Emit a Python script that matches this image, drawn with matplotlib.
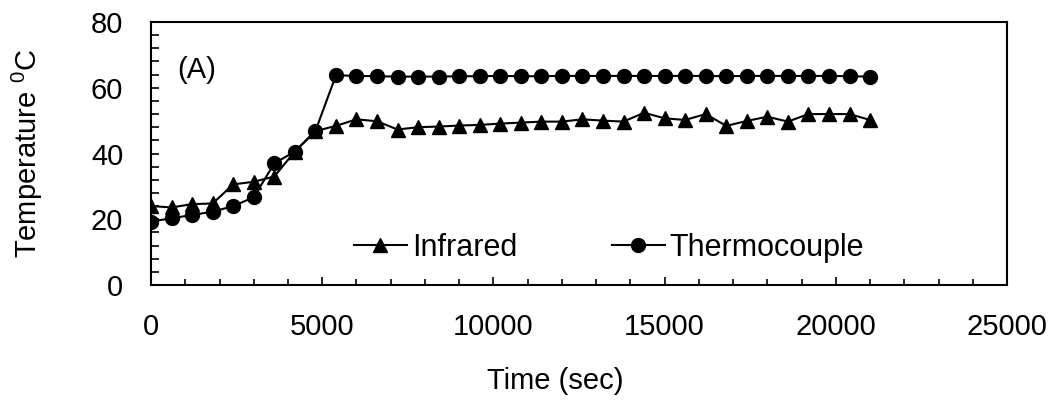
import matplotlib
matplotlib.use("Agg")
import matplotlib.pyplot as plt
from matplotlib.ticker import MultipleLocator

time_sec = [0, 600, 1200, 1800, 2400, 3000, 3600, 4200, 4800, 5400, 6000, 6600,
            7200, 7800, 8400, 9000, 9600, 10200, 10800, 11400, 12000, 12600, 13200, 13800,
            14400, 15000, 15600, 16200, 16800, 17400, 18000, 18600, 19200, 19800, 20400, 21000]
infrared = [24.0, 23.6, 24.6, 24.8, 30.6, 31.4, 33.0, 40.6, 46.8, 48.4, 50.4, 49.8,
            47.3, 48.0, 48.2, 48.5, 48.7, 49.1, 49.4, 49.7, 49.7, 50.4, 50.0, 49.7,
            52.4, 50.7, 50.2, 52.0, 48.4, 49.9, 51.2, 49.7, 52.0, 52.0, 52.0, 50.2]
thermocouple = [19.3, 20.3, 21.3, 22.3, 24.0, 26.7, 37.0, 40.6, 46.8, 63.8, 63.6, 63.5,
                63.4, 63.4, 63.4, 63.5, 63.5, 63.6, 63.5, 63.5, 63.6, 63.6, 63.6, 63.6,
                63.6, 63.6, 63.6, 63.6, 63.5, 63.6, 63.6, 63.6, 63.6, 63.6, 63.5, 63.4]

plt.rcParams['font.family'] = ['Liberation Sans', 'DejaVu Sans']
plt.rcParams['mathtext.fontset'] = 'custom'
plt.rcParams['mathtext.rm'] = 'Liberation Sans'

FS = 21

fig = plt.figure(figsize=(10.57, 4.03), dpi=100)
ax = fig.add_axes([0.1429, 0.2928, 0.8098, 0.6526])

ax.plot(time_sec, infrared, color='black', lw=1.5, marker='^', markersize=10,
        label='Infrared')
ax.plot(time_sec, thermocouple, color='black', lw=1.5, marker='o', markersize=10,
        label='Thermocouple')

ax.set_xlim(0, 25000)
ax.set_ylim(0, 80)
ax.xaxis.set_major_locator(MultipleLocator(5000))
ax.xaxis.set_minor_locator(MultipleLocator(1000))
ax.yaxis.set_major_locator(MultipleLocator(20))
ax.yaxis.set_minor_locator(MultipleLocator(4))

ax.tick_params(axis='both', which='both', direction='in', width=1.2, labelsize=FS,
               colors='black')
ax.tick_params(axis='x', which='major', length=6, pad=20)
ax.tick_params(axis='x', which='minor', length=4)
ax.tick_params(axis='y', which='major', length=6, pad=20)
ax.tick_params(axis='y', which='minor', length=6)
for s in ax.spines.values():
    s.set_linewidth(1.5)

ax.set_xlabel('Time (sec)', fontsize=FS, va='center')
ax.xaxis.set_label_coords(0.472, -0.365)
ax.set_ylabel('Temperature $^{\\mathregular{0}}$C', fontsize=FS, va='center')
ax.yaxis.set_label_coords(-0.145, 0.5)

ax.text(1340, 65.5, '(A)', fontsize=FS, ha='center', va='center')

ax.legend(loc='center', bbox_to_anchor=(0.535, 0.141), ncol=2, frameon=False,
          fontsize=22, handlelength=1.73, handletextpad=0.16, columnspacing=3.1,
          borderpad=0.2)

fig.savefig('out.png', dpi=100)
